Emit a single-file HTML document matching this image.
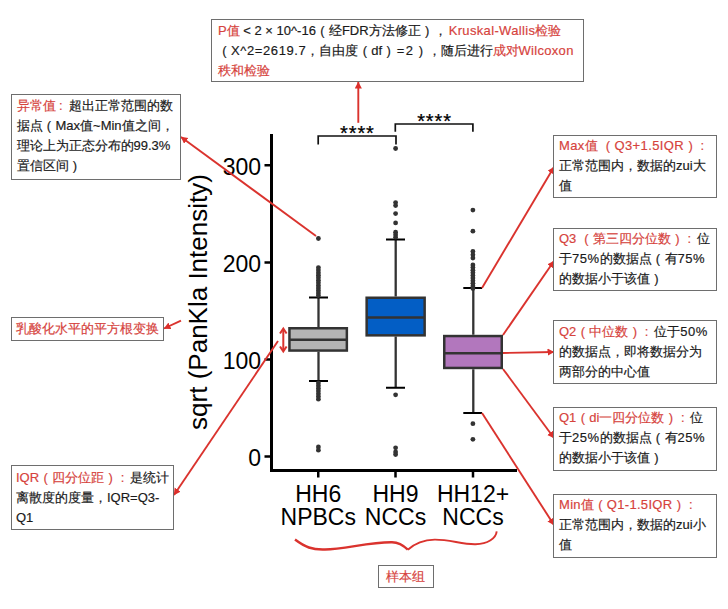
<!DOCTYPE html>
<html><head><meta charset="utf-8">
<style>
html,body{margin:0;padding:0;background:#fff;}
body{width:728px;height:609px;position:relative;overflow:hidden;font-family:"Liberation Sans",sans-serif;color:#222;}
.bx{position:absolute;box-sizing:border-box;border:1px solid #6e6e6e;background:#fff;}
.tx{position:absolute;font-size:13px;line-height:20px;white-space:nowrap;color:#1a1a1a;margin-top:2px;-webkit-text-stroke-width:0.18px;}
.r{color:#d6433d;}
.l{letter-spacing:0px;}
.p{display:inline-block;width:1em;text-align:center;letter-spacing:0;}
.c{display:inline-block;width:1em;text-align:left;padding-left:3.5px;box-sizing:border-box;letter-spacing:0;}
svg{position:absolute;left:0;top:0;}
</style></head><body>
<svg width="728" height="609" viewBox="0 0 728 609">
<defs>
<marker id="ah" markerWidth="8" markerHeight="8" refX="6.5" refY="3.6" orient="auto" markerUnits="userSpaceOnUse">
<path d="M0,0 L6.8,3.6 L0,7.2 Z" fill="#dc2f2b"/>
</marker>
</defs>
<!-- axes -->
<g stroke="#000" stroke-width="3" fill="none">
<path d="M271.5,134 V472 M270,470.5 H517"/>
</g>
<g stroke="#000" stroke-width="2.5">
<path d="M264.5,165.25 H271 M264.5,262.4 H271 M264.5,359.4 H271 M264.5,456.5 H271"/>
<path d="M318.25,471 V477.5 M395.5,471 V477.5 M473,471 V477.5"/>
</g>
<g font-family="Liberation Sans" font-size="23" text-anchor="end" fill="#000">
<text x="261" y="174.5">300</text>
<text x="261" y="271.7">200</text>
<text x="261" y="368.7">100</text>
<text x="261" y="465.8">0</text>
</g>
<text font-family="Liberation Sans" font-size="26" text-anchor="middle" fill="#000" transform="translate(207,302) rotate(-90)">sqrt (PanKla Intensity)</text>
<g font-family="Liberation Sans" font-size="23" text-anchor="middle" fill="#000">
<text x="318.25" y="501.6">HH6</text><text x="318.25" y="525.4">NPBCs</text>
<text x="395.5" y="501.6">HH9</text><text x="395.5" y="525.4">NCCs</text>
<text x="473" y="501.6">HH12+</text><text x="473" y="525.4">NCCs</text>
</g>
<!-- whiskers -->
<g stroke="#333" stroke-width="2.3">
<path d="M318.5,297.5 V327 M318.5,351.8 V381"/>
<path d="M395.7,239.4 V296.5 M395.7,336.6 V387.7"/>
<path d="M473.3,288 V334.8 M473.3,369.2 V413"/>
</g>
<g stroke="#000" stroke-width="2">
<path d="M309,297.5 H328 M309,381.1 H328"/>
<path d="M386,239.4 H405 M386,387.7 H405"/>
<path d="M463.3,288 H482 M463.3,413 H482"/>
</g>
<!-- boxes -->
<g stroke="#333" stroke-width="2.5">
<rect x="289.45" y="328.25" width="57.4" height="22.3" fill="#b4b4b4"/>
<path d="M289.45,339.8 H346.85"/>
<rect x="366.65" y="297.75" width="58" height="37.6" fill="#035ec5"/>
<path d="M366.65,317.6 H424.65"/>
<rect x="444.25" y="336.05" width="57.5" height="31.9" fill="#b277bd"/>
<path d="M444.25,353.3 H501.75"/>
</g>
<!-- outliers -->
<g fill="#333" id="out"><circle cx="318.4" cy="238.5" r="2.4"/><circle cx="318.4" cy="267.6" r="2.4"/><circle cx="318.4" cy="270.1" r="2.4"/><circle cx="318.4" cy="272.7" r="2.4"/><circle cx="318.4" cy="275.2" r="2.4"/><circle cx="318.4" cy="277.7" r="2.4"/><circle cx="318.4" cy="280.3" r="2.4"/><circle cx="318.4" cy="282.8" r="2.4"/><circle cx="318.4" cy="285.4" r="2.4"/><circle cx="318.4" cy="287.9" r="2.4"/><circle cx="318.4" cy="290.4" r="2.4"/><circle cx="318.4" cy="293.0" r="2.4"/><circle cx="318.4" cy="295.5" r="2.4"/><circle cx="318.4" cy="383.0" r="2.4"/><circle cx="318.4" cy="385.7" r="2.4"/><circle cx="318.4" cy="388.4" r="2.4"/><circle cx="318.4" cy="391.1" r="2.4"/><circle cx="318.4" cy="393.8" r="2.4"/><circle cx="318.4" cy="396.5" r="2.4"/><circle cx="318.4" cy="399.2" r="2.4"/><circle cx="318.4" cy="447.0" r="2.4"/><circle cx="318.4" cy="450.2" r="2.4"/><circle cx="395.6" cy="148.5" r="2.4"/><circle cx="395.6" cy="202.6" r="2.4"/><circle cx="395.6" cy="205.6" r="2.4"/><circle cx="395.6" cy="213.6" r="2.4"/><circle cx="395.6" cy="222.9" r="2.4"/><circle cx="395.6" cy="232.2" r="2.4"/><circle cx="395.6" cy="234.7" r="2.4"/><circle cx="395.6" cy="237.2" r="2.4"/><circle cx="395.6" cy="394.8" r="2.4"/><circle cx="395.6" cy="447.8" r="2.4"/><circle cx="395.6" cy="452.0" r="2.4"/><circle cx="395.6" cy="454.5" r="2.4"/><circle cx="472.9" cy="210.1" r="2.4"/><circle cx="472.9" cy="231.2" r="2.4"/><circle cx="472.9" cy="251.5" r="2.4"/><circle cx="472.9" cy="254.8" r="2.4"/><circle cx="472.9" cy="258.0" r="2.4"/><circle cx="472.9" cy="265.0" r="2.4"/><circle cx="472.9" cy="267.6" r="2.4"/><circle cx="472.9" cy="270.2" r="2.4"/><circle cx="472.9" cy="272.8" r="2.4"/><circle cx="472.9" cy="275.4" r="2.4"/><circle cx="472.9" cy="278.1" r="2.4"/><circle cx="472.9" cy="280.7" r="2.4"/><circle cx="472.9" cy="283.3" r="2.4"/><circle cx="472.9" cy="285.9" r="2.4"/><circle cx="472.9" cy="288.5" r="2.4"/><circle cx="472.9" cy="423.7" r="2.4"/><circle cx="472.9" cy="439.3" r="2.4"/></g>
<!-- brackets -->
<g stroke="#111" stroke-width="1.7" fill="none">
<path d="M318.2,144.6 V136 H396 V144.6"/>
<path d="M395.3,131.8 V124 H472.9 V131.8"/>
</g>
<g font-family="Liberation Sans" font-size="20" letter-spacing="0.9" stroke="#000" stroke-width="0.25" text-anchor="middle" fill="#000">
<text x="357.4" y="140">****</text>
<text x="434.5" y="128">****</text>
</g>
<!-- red annotations -->
<g stroke="#da332e" stroke-width="1.9" fill="none" marker-end="url(#ah)">
<path d="M358.3,122.8 V82"/>
<path d="M316,236 L181,137"/>
<path d="M181,320.7 L164,328.5"/>
<path d="M278,341 L174,495"/>
<path d="M482,288 L554,167"/>
<path d="M503,335 L554,261"/>
<path d="M503,353 L554,352"/>
<path d="M503,369 L554,438"/>
<path d="M482,413 L554,525"/>
</g>
<g stroke="#da332e" stroke-width="2" fill="none">
<path d="M283.3,329.5 V350.5"/>
<path d="M280,333.5 L283.3,328.6 L286.6,333.5 M280,346.5 L283.3,351.4 L286.6,346.5"/>
<path stroke-width="2.4" d="M295,539.5 C305,547 312,550 325,549.5 C345,549 370,542 392,542.3 C400,542.5 404,546 407.8,549.7"/><path stroke-width="1.9" d="M407.8,549.7 C413,545 420,540 434.7,539.6 C450,539.5 462,544.5 475.5,544.2 C488,544 496,538 496.7,531.3"/>
</g>
</svg>
<!-- boxes -->
<div class="bx" style="left:211px;top:19px;width:373px;height:63px;"></div>
<div class="tx" style="left:218px;top:19px;"><span class="r"><span class="l">P</span>值</span> <span class="l">&lt; 2 × 10^-16</span><span class="p">(</span>经<span class="l">FDR</span>方法修正<span class="p">)</span>，<span class="r"><span class="l" style="letter-spacing:0.35px;margin-left:2px">Kruskal-Wallis</span>检验</span><br><span class="p">(</span><span class="l" style="letter-spacing:0.6px">X^2=2619.7</span>，自由度<span class="p">(</span><span class="l">df</span><span class="p">)</span><span class="l" style="letter-spacing:1.5px;margin-left:1.5px">=2</span><span class="p">)</span>，随后进行<span class="r">成对<span class="l" style="letter-spacing:0.3px">Wilcoxon</span></span><br><span class="r">秩和检验</span></div>

<div class="bx" style="left:11px;top:94px;width:170px;height:86px;"></div>
<div class="tx" style="left:16.5px;top:94px;"><span class="r">异常值<span class="c">:</span></span>超出正常范围的数<br>据点<span class="p">(</span><span class="l">Max</span>值<span class="l">~Min</span>值之间，<br>理论上为正态分布的<span class="l">99.3%</span><br>置信区间<span class="p">)</span></div>

<div class="bx" style="left:11px;top:317px;width:153px;height:24px;"></div>
<div class="tx r" style="left:16px;top:317px;">乳酸化水平的平方根变换</div>

<div class="bx" style="left:11px;top:465px;width:163px;height:65px;"></div>
<div class="tx" style="left:16px;top:466px;"><span class="r"><span class="l">IQR</span><span class="p">(</span>四分位距<span class="p">)</span><span class="c">:</span></span>是统计<br>离散度的度量，<span class="l">IQR=Q3-</span><br><span class="l">Q1</span></div>

<div class="bx" style="left:553px;top:135px;width:164px;height:63px;"></div>
<div class="tx" style="left:559px;top:134px;"><span class="r"><span class="l" style="letter-spacing:0.4px">Max</span>值 <span class="p">(</span><span class="l" style="letter-spacing:0.4px">Q3+1.5IQR</span><span class="p">)</span><span class="c">:</span></span><br>正常范围内，数据的<span class="l">zui</span>大<br>值</div>

<div class="bx" style="left:553px;top:228px;width:164px;height:63px;"></div>
<div class="tx" style="left:559px;top:227px;"><span class="r"><span class="l">Q3</span> <span class="p">(</span>第三四分位数<span class="p">)</span><span class="c">:</span></span>位<br>于<span class="l" style="letter-spacing:0.5px">75%</span>的数据点<span class="p">(</span>有<span class="l" style="letter-spacing:0.5px">75%</span><br>的数据小于该值<span class="p">)</span></div>

<div class="bx" style="left:553px;top:320px;width:164px;height:64px;"></div>
<div class="tx" style="left:559px;top:320px;"><span class="r"><span class="l">Q2</span><span class="p">(</span>中位数<span class="p">)</span><span class="c">:</span></span>位于<span class="l" style="letter-spacing:0.5px">50%</span><br>的数据点，即将数据分为<br>两部分的中心值</div>

<div class="bx" style="left:553px;top:407px;width:164px;height:64px;"></div>
<div class="tx" style="left:559px;top:406px;"><span class="r"><span class="l">Q1</span><span class="p">(</span><span class="l">di</span>一四分位数<span class="p">)</span><span class="c">:</span></span>位<br>于<span class="l" style="letter-spacing:0.5px">25%</span>的数据点<span class="p">(</span>有<span class="l" style="letter-spacing:0.5px">25%</span><br>的数据小于该值<span class="p">)</span></div>

<div class="bx" style="left:553px;top:494px;width:164px;height:64px;"></div>
<div class="tx" style="left:559px;top:493px;"><span class="r"><span class="l" style="letter-spacing:0.3px">Min</span>值<span class="p">(</span><span class="l" style="letter-spacing:0.3px">Q1-1.5IQR</span><span class="p">)</span><span class="c">:</span></span><br>正常范围内，数据的<span class="l">zui</span>小<br>值</div>

<div class="bx" style="left:378px;top:565px;width:56px;height:23px;"></div>
<div class="tx r" style="left:386px;top:565px;font-size:12.5px;">样本组</div>
</body></html>
